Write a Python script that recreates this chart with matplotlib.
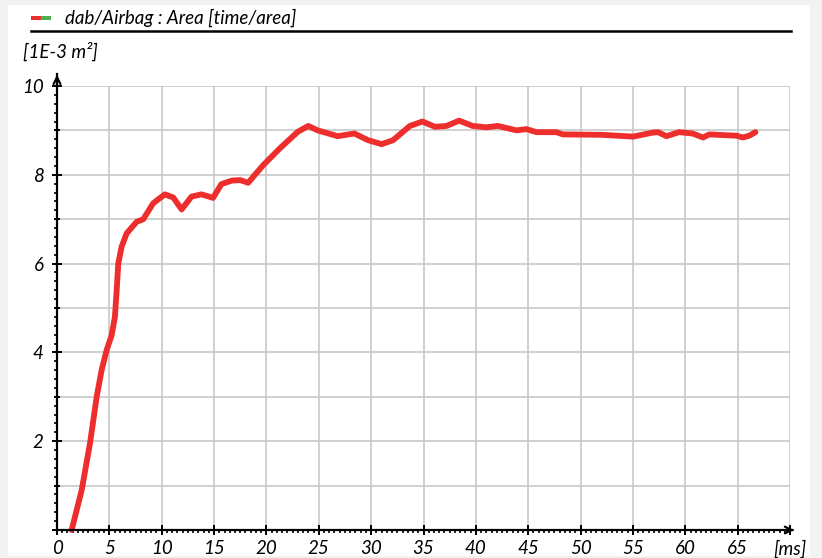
import matplotlib.pyplot as plt
from matplotlib.ticker import MultipleLocator
from matplotlib.patches import Rectangle
from matplotlib.lines import Line2D

plt.rcParams['font.family'] = ['Lato', 'DejaVu Sans']

# curve: time [ms] / area [1E-3 m^2]
time_ms = [1.4, 2.36, 3.15, 3.79, 4.26, 4.74, 5.22, 5.53, 5.7, 5.85, 6.17, 6.65,
           7.6, 8.24, 9.19, 10.3, 11.1, 11.9, 12.85, 13.8, 14.9, 15.7, 16.7,
           17.5, 18.25, 19.7, 21.3, 23.0, 24.0, 24.9, 26.8, 28.4, 29.7, 31.0,
           32.1, 33.7, 34.9, 36.1, 37.2, 38.4, 39.7, 41.0, 42.1, 43.9, 44.8,
           45.8, 47.7, 48.3, 52.1, 55.0, 56.9, 57.4, 58.2, 59.4, 60.7, 61.7,
           62.3, 64.9, 65.5, 66.1, 66.7]
area = [0.0, 0.9, 1.95, 3.0, 3.6, 4.05, 4.39, 4.8, 5.4, 6.0, 6.38, 6.68,
        6.94, 7.0, 7.36, 7.56, 7.49, 7.22, 7.51, 7.56, 7.48, 7.79, 7.87,
        7.88, 7.82, 8.22, 8.6, 8.97, 9.1, 9.0, 8.87, 8.93, 8.78, 8.69,
        8.78, 9.1, 9.2, 9.08, 9.1, 9.22, 9.1, 9.07, 9.1, 9.0, 9.03,
        8.96, 8.96, 8.91, 8.9, 8.86, 8.95, 8.96, 8.87, 8.96, 8.93, 8.84,
        8.91, 8.88, 8.84, 8.88, 8.96]

legend_text = 'dab/Airbag : Area [time/area]'
y_unit = '[1E-3 m²]'
x_unit = '[ms]'

W, H = 822, 558
fig = plt.figure(figsize=(W / 100, H / 100), dpi=100, facecolor='#f2f2f2')
fig.patches.append(Rectangle((8 / W, 1 - 556 / H), 802 / W, 551 / H,
                             transform=fig.transFigure, facecolor='white',
                             edgecolor='none', zorder=-10))

ax = fig.add_axes([57 / W, 1 - 530 / H, (790 - 57) / W, (530 - 86) / H])
ax.set_facecolor('none')
ax.set_zorder(1)

ax.plot(time_ms, area, color='#ee2d2d', lw=4.2, solid_capstyle='round',
        solid_joinstyle='round', zorder=3, clip_on=False)

ax.set_xlim(0, 70)
ax.set_ylim(0, 10)
ax.set_xticks(range(0, 71, 5))
ax.set_xticklabels([str(v) if v <= 65 else '' for v in range(0, 71, 5)])
ax.xaxis.set_minor_locator(MultipleLocator(0.5))
ax.set_yticks(range(0, 11))
ax.set_yticklabels([str(v) if v % 2 == 0 and v > 0 else '' for v in range(0, 11)])
ax.yaxis.set_minor_locator(MultipleLocator(0.2))

ax.grid(True, which='major', color='#c8c8c8', lw=1.2)

for s in ['top', 'right']:
    ax.spines[s].set_visible(False)
for s in ['left', 'bottom']:
    ax.spines[s].set_linewidth(1.6)
    ax.spines[s].set_zorder(4)

ax.tick_params(axis='both', which='major', direction='inout', length=7,
               width=1.4, labelsize=13.5, color='black')
ax.tick_params(axis='both', which='minor', direction='out', length=2.2,
               width=1.2)
ax.tick_params(axis='x', which='major', pad=4)
ax.tick_params(axis='y', which='major', pad=6)
for lab in ax.get_xticklabels() + ax.get_yticklabels():
    lab.set_fontstyle('italic')

# shorter odd-value y ticks
for i, t in enumerate(ax.yaxis.get_major_ticks()):
    if i % 2 == 1:
        t.tick1line.set_markersize(4)

# axis arrows
ax.annotate('', xy=(1.0 + 4 / 733, 0), xytext=(1.0 - 0.001, 0),
            xycoords='axes fraction',
            arrowprops=dict(arrowstyle='->', lw=1.6, color='black',
                            mutation_scale=12))
ax.add_line(Line2D([0, 0], [1, 1 + 12 / 444], transform=ax.transAxes,
                   color='black', lw=1.6, clip_on=False))
ax.annotate('', xy=(0, 1 + 14 / 444), xytext=(0, 1 + 5 / 444),
            xycoords='axes fraction',
            arrowprops=dict(arrowstyle='->', lw=1.6, color='black',
                            mutation_scale=12))

# legend line and title
fig.add_artist(Line2D([31 / W, 791 / W], [1 - 31 / H, 1 - 31 / H],
                      color='black', lw=1.8))
fig.patches.append(Rectangle((31 / W, 1 - 20 / H), 10 / W, 4 / H,
                             transform=fig.transFigure, facecolor='#ee2d2d',
                             edgecolor='none'))
fig.patches.append(Rectangle((41 / W, 1 - 20 / H), 10 / W, 4 / H,
                             transform=fig.transFigure, facecolor='#4caf50',
                             edgecolor='none'))
fig.text(65 / W, 1 - 18 / H, legend_text, fontsize=13.5, style='italic',
         va='center', ha='left')
fig.text(23 / W, 1 - 51 / H, y_unit, fontsize=13.5, style='italic',
         va='center', ha='left')
fig.text(807 / W, 1 - 549 / H, x_unit, fontsize=13.5, style='italic',
         va='center', ha='right')

fig.savefig('out.png', dpi=100, facecolor=fig.get_facecolor())
